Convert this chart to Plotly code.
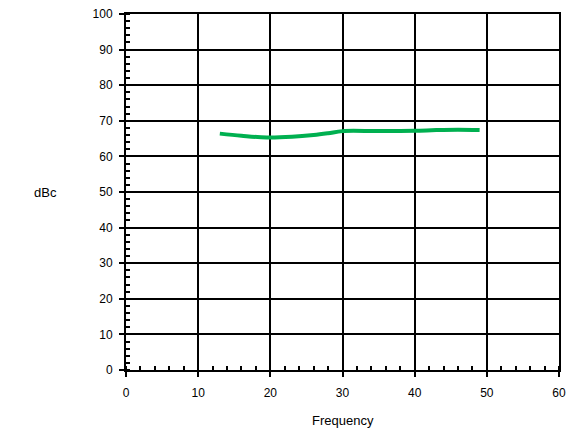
import plotly.graph_objects as go

freq = [13, 16, 19.5, 23, 26, 28, 30, 35, 40, 43, 46, 49]
dbc = [66.4, 65.8, 65.3, 65.5, 66.0, 66.5, 67.1, 67.1, 67.2, 67.4, 67.5, 67.4]

x_ticks = [0, 10, 20, 30, 40, 50, 60]
y_ticks = [0, 10, 20, 30, 40, 50, 60, 70, 80, 90, 100]

FONT = "Liberation Sans, Arial"

fig = go.Figure()
fig.add_trace(go.Scatter(x=freq, y=dbc, mode="lines",
                         line=dict(color="#00b050", width=4, shape="spline"),
                         showlegend=False))

axis_common = dict(
    showgrid=True, gridcolor="black", gridwidth=1.5,
    showline=True, linecolor="black", linewidth=2, mirror=True,
    ticks="outside", ticklen=5, tickwidth=1.5, tickcolor="black",
    zeroline=False, automargin=False, ticklabeloverflow="allow",
    tickfont=dict(family=FONT, size=12, color="black"),
)

fig.update_xaxes(range=[0, 60], tickvals=x_ticks, ticktext=[str(v) for v in x_ticks],
                 ticklabelstandoff=6,
                 minor=dict(dtick=2, ticks="inside", ticklen=4, tickwidth=1.5,
                            tickcolor="black", showgrid=False),
                 **axis_common)
fig.update_yaxes(range=[0, 100], tickvals=y_ticks, ticktext=[str(v) for v in y_ticks],
                 ticklabelstandoff=4,
                 minor=dict(dtick=2, ticks="inside", ticklen=4, tickwidth=1.5,
                            tickcolor="black", showgrid=False),
                 **axis_common)

fig.add_annotation(text="Frequency", xref="paper", yref="paper", x=0.5, y=0,
                   yshift=-50, showarrow=False, yanchor="middle",
                   font=dict(family=FONT, size=13, color="black"))
fig.add_annotation(text="dBc", xref="paper", yref="paper", x=0, y=0.5,
                   xshift=-81, showarrow=False, xanchor="center",
                   font=dict(family=FONT, size=13, color="black"))

fig.update_layout(width=566, height=426,
                  margin=dict(l=118, r=15, t=6, b=64, autoexpand=False),
                  plot_bgcolor="white", paper_bgcolor="white")

fig.write_html("out.html")
